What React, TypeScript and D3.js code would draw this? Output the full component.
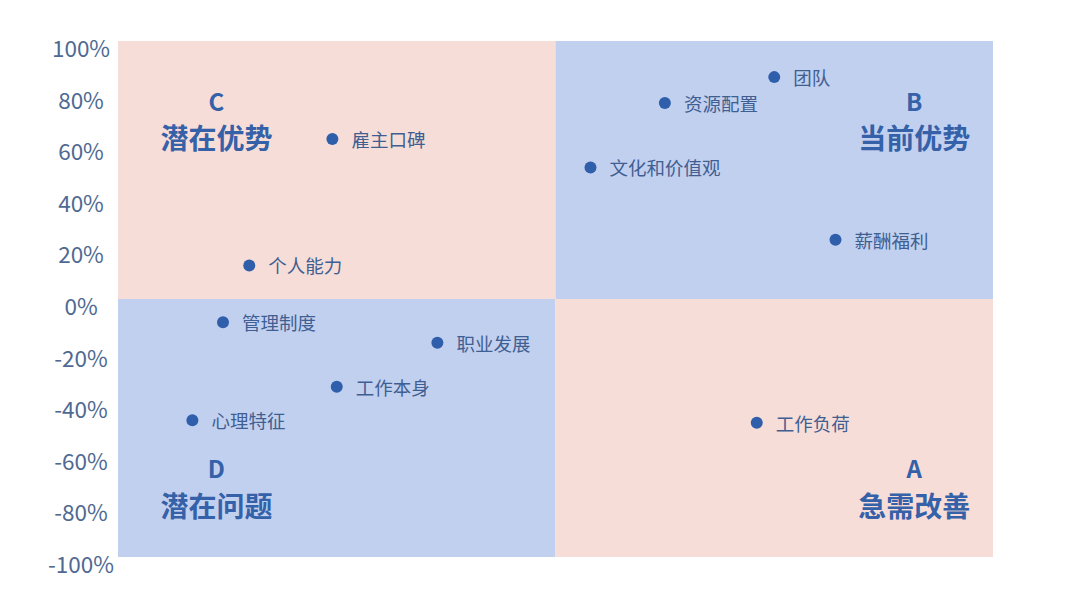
import * as d3 from "d3";
import { useEffect, useRef } from "react";

const names = ["团队", "资源配置", "文化和价值观", "薪酬福利", "雇主口碑", "个人能力", "管理制度", "职业发展", "工作本身", "心理特征", "工作负荷"];
const xValues = [50, 25, 8, 64, -51, -70, -76, -27, -50, -83, 46];
const yValues = [86, 76, 51, 23, 62, 13, -9, -17, -34, -47, -48];

const yTicks = [100, 80, 60, 40, 20, 0, -20, -40, -60, -80, -100];

const quadrants = [
  { letter: "C", title: "潜在优势", sx: -1, sy: 1, fill: "#f7ddd8" },
  { letter: "B", title: "当前优势", sx: 1, sy: 1, fill: "#c2d0f0" },
  { letter: "D", title: "潜在问题", sx: -1, sy: -1, fill: "#c2d0f0" },
  { letter: "A", title: "急需改善", sx: 1, sy: -1, fill: "#f7ddd8" },
];

const W = 1080;
const H = 608;
const FONT = "'Noto Sans CJK SC', 'Noto Sans', sans-serif";

export default function App() {
  const ref = useRef<SVGSVGElement>(null);

  useEffect(() => {
    const svg = d3.select(ref.current);
    svg.selectAll("*").remove();

    const x = d3.scaleLinear().domain([-100, 100]).range([118, 993]);
    const y = d3.scaleLinear().domain([-100, 100]).range([557, 41]);

    svg.append("rect").attr("width", W).attr("height", H).attr("fill", "#ffffff");

    // quadrant backgrounds
    svg
      .selectAll("rect.q")
      .data(quadrants)
      .enter()
      .append("rect")
      .attr("class", "q")
      .attr("x", (d) => (d.sx < 0 ? x(-100) : x(0)))
      .attr("y", (d) => (d.sy > 0 ? y(100) : y(0)))
      .attr("width", x(0) - x(-100))
      .attr("height", y(0) - y(100))
      .attr("fill", (d) => d.fill);

    // quadrant titles
    const qx = (d: any) => (d.sx < 0 ? x(-77.5) : x(82));
    const qy = (d: any) => (d.sy > 0 ? y(77) : y(-65.5));
    const qg = svg.selectAll("g.qt").data(quadrants).enter().append("g").attr("class", "qt");
    qg.append("text")
      .attr("x", qx)
      .attr("y", qy)
      .attr("text-anchor", "middle")
      .attr("dominant-baseline", "central")
      .attr("font-family", FONT)
      .attr("font-weight", "bold")
      .attr("font-size", 24)
      .attr("fill", "#3461a8")
      .text((d) => d.letter);
    qg.append("text")
      .attr("x", qx)
      .attr("y", (d) => qy(d) + 37)
      .attr("text-anchor", "middle")
      .attr("dominant-baseline", "central")
      .attr("font-family", FONT)
      .attr("font-weight", "bold")
      .attr("font-size", 28)
      .attr("fill", "#3461a8")
      .text((d) => d.title);

    // y tick labels
    svg
      .selectAll("text.yt")
      .data(yTicks)
      .enter()
      .append("text")
      .attr("class", "yt")
      .attr("x", 81)
      .attr("y", (d) => y(d) + 6)
      .attr("text-anchor", "middle")
      .attr("dominant-baseline", "central")
      .attr("font-family", FONT)
      .attr("font-size", 22.5)
      .attr("fill", "#4f6a92")
      .text((d) => `${d}%`);

    // points
    const pts = names.map((n, i) => ({ name: n, x: xValues[i], y: yValues[i] }));
    const g = svg.selectAll("g.pt").data(pts).enter().append("g").attr("class", "pt");
    g.append("circle")
      .attr("cx", (d) => x(d.x))
      .attr("cy", (d) => y(d.y))
      .attr("r", 6)
      .attr("fill", "#2f5eab");
    g.append("text")
      .attr("x", (d) => x(d.x) + 19)
      .attr("y", (d) => y(d.y))
      .attr("dominant-baseline", "central")
      .attr("font-family", FONT)
      .attr("font-size", 18.5)
      .attr("fill", "#3f5f92")
      .text((d) => d.name);
  }, []);

  return (
    <svg
      ref={ref}
      width={W}
      height={H}
      style={{ position: "absolute", left: 0, top: 0 }}
    />
  );
}
